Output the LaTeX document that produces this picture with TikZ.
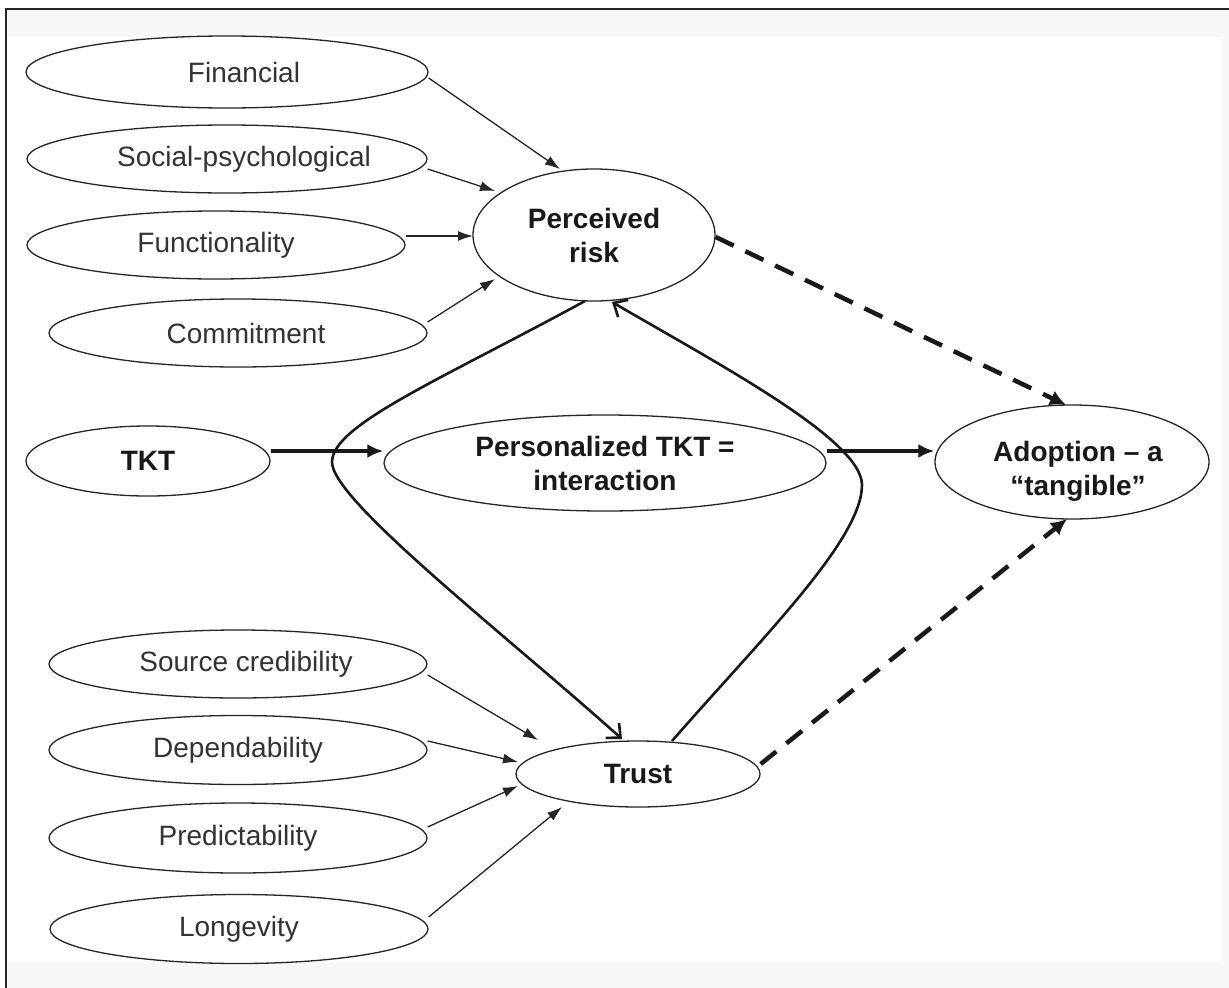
\documentclass[tikz,border=0pt]{standalone}
\usepackage{fontspec}
\setmainfont{Liberation Sans}
\usetikzlibrary{shapes.geometric,arrows.meta,calc}
\begin{document}
\begin{tikzpicture}[x=1pt,y=-1pt,
  ell/.style={ellipse,draw=black!85,line width=1.3pt,inner sep=0pt,fill=white,
    font=\fontsize{28}{34}\selectfont,text=black!80,align=center},
  bell/.style={ell,font=\fontsize{28}{34}\selectfont\bfseries,text=black!90},
  btext/.style={font=\fontsize{28}{34}\selectfont\bfseries,text=black!90,align=center,inner sep=0pt},
  thinarrow/.style={line width=1.3pt,draw=black!85,-{Latex[length=15pt,width=10pt]}},
  midarrow/.style={line width=4pt,draw=black!90,-{Latex[length=16pt,width=14pt]}},
  dasharrow/.style={line width=4.5pt,draw=black!90,dash pattern=on 20pt off 13pt,-{Latex[length=16pt,width=16pt]}},
  loopline/.style={line width=2.6pt,draw=black!90,-{Straight Barb[length=11pt,width=20pt]}}
]
\useasboundingbox (0,0) rectangle (1229,988);
% frame
\fill[white] (0,0) rectangle (1229,988);
\fill[black!3] (6,9) rectangle (1229,988);
\fill[white] (7,37) rectangle (1222,962);
\draw[line width=1.6pt,black!85] (6,988) -- (6,9) -- (1229,9);

% nodes
\node[ell,minimum width=402,minimum height=72] (fin) at (227,72) {\makebox[0pt]{\hspace*{34pt}Financial}};
\node[ell,minimum width=400,minimum height=68] (soc) at (227,159) {\makebox[0pt]{\hspace*{34pt}Social-psychological}};
\node[ell,minimum width=378,minimum height=68] (func) at (216,245) {Functionality};
\node[ell,minimum width=378,minimum height=68] (com) at (238,333) {\makebox[0pt]{\hspace*{16pt}Commitment}};
\node[bell,minimum width=244,minimum height=70] (tkt) at (148,461) {TKT};
\node[ell,minimum width=378,minimum height=68] (src) at (238,664) {\makebox[0pt]{\hspace*{16pt}Source credibility}};
\node[ell,minimum width=378,minimum height=69] (dep) at (238,750) {Dependability};
\node[ell,minimum width=378,minimum height=70] (pred) at (238,838) {Predictability};
\node[ell,minimum width=378,minimum height=69] (lon) at (239,929) {Longevity};
\node[bell,minimum width=242,minimum height=132] (pr) at (594,235) {Perceived\\risk};
\node[ell,minimum width=442,minimum height=96] (pers) at (605,463) {};
\node[btext] (perstext) at (pers.center) {Personalized TKT =\\interaction};
\node[ell,minimum width=274,minimum height=114] (adopt) at (1072,462) {};
\node[btext] (adopttext) at ([shift={(6,9)}]adopt.center) {Adoption -- a\\``tangible''};
\node[bell,minimum width=244,minimum height=66] (trust) at (638,774) {Trust};

% thin arrows into perceived risk
\draw[thinarrow] ([shift={(0,6)}]fin.east) -- ([shift={(-34,-66)}]pr.center);
\draw[thinarrow] ([shift={(0,10)}]soc.east) -- ([shift={(-99,-44)}]pr.center);
\draw[thinarrow] ([shift={(0,-9)}]func.east) -- ([shift={(-121,1)}]pr.center);
\draw[thinarrow] ([shift={(0,-11)}]com.east) -- ([shift={(-99,44)}]pr.center);

% thin arrows into trust
\draw[thinarrow] ([shift={(0,11)}]src.east) -- ([shift={(-100,-34)}]trust.center);
\draw[thinarrow] ([shift={(0,-9)}]dep.east) -- ([shift={(-120,-12)}]trust.center);
\draw[thinarrow] ([shift={(0,-11)}]pred.east) -- ([shift={(-120,12)}]trust.center);
\draw[thinarrow] ([shift={(0,-12)}]lon.east) -- ([shift={(-76,33)}]trust.center);

% middle row
\coordinate (midy) at ([shift={(0,-11)}]adopt.west);
\draw[midarrow] (tkt.east |- midy) -- (pers.west |- midy);
\draw[midarrow] (pers.east |- midy) -- (midy);

% dashed
\draw[dasharrow] ([shift={(0,2)}]pr.east) -- ([shift={(-6,-57)}]adopt.center);
\draw[dasharrow] ([shift={(0,-10)}]trust.east) -- ([shift={(-5,57)}]adopt.center);

% crossing curves
\draw[loopline] ([shift={(-9,66)}]pr.center) .. controls (440,380) and (332,425) .. (332,462)
  .. controls (332,500) and (500,630) .. ([shift={(-16,-35)}]trust.center);
\draw[loopline] ([shift={(34,-33)}]trust.center) .. controls (760,640) and (862,540) .. (862,485)
  .. controls (862,440) and (720,365) .. ([shift={(18,67)}]pr.center);
\end{tikzpicture}
\end{document}
